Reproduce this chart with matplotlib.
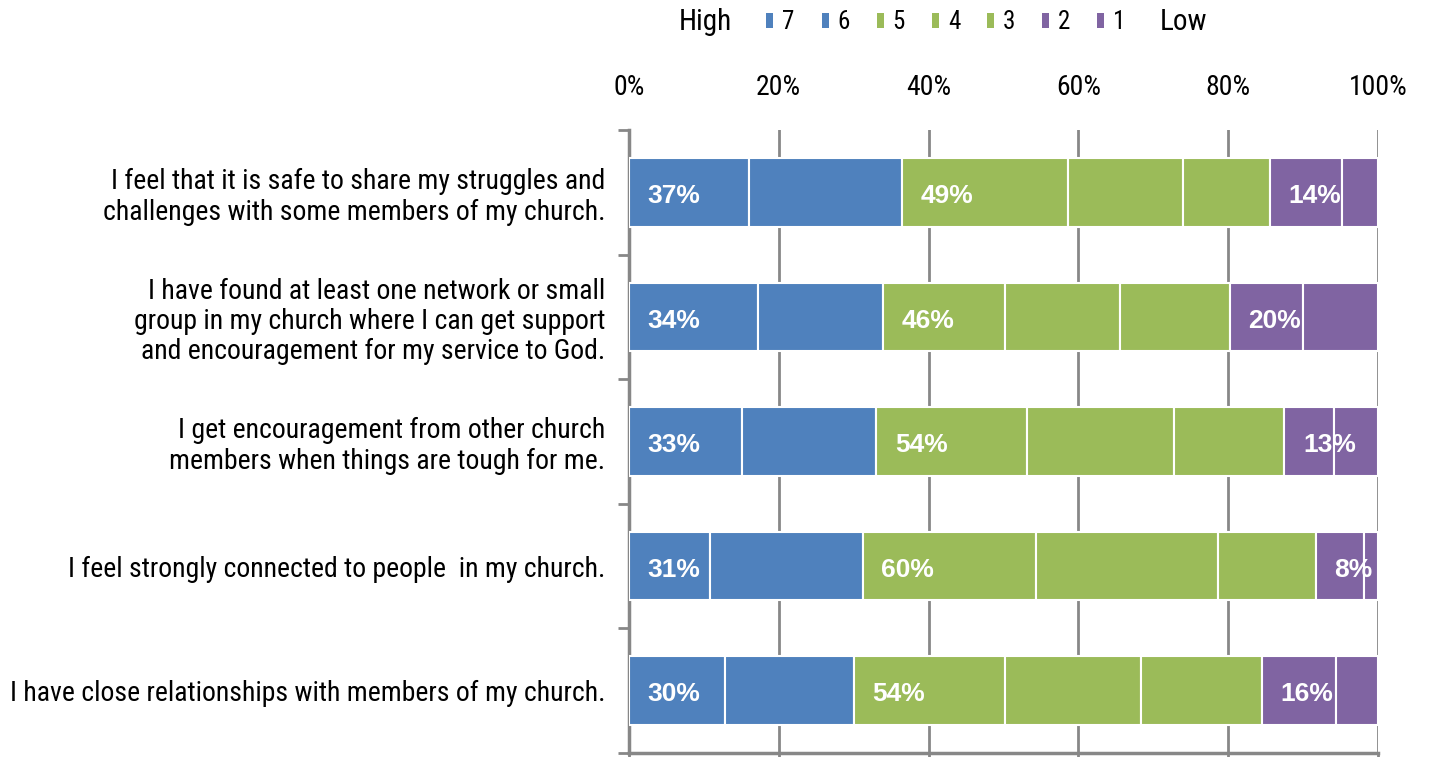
import numpy as np
import matplotlib.pyplot as plt
from matplotlib.patches import Patch

questions = [
    "I feel that it is safe to share my struggles and\nchallenges with some members of my church.",
    "I have found at least one network or small\ngroup in my church where I can get support\nand encouragement for my service to God.",
    "I get encouragement from other church\nmembers when things are tough for me.",
    "I feel strongly connected to people  in my church.",
    "I have close relationships with members of my church.",
]
levels = ["7", "6", "5", "4", "3", "2", "1"]

# share of answers per level (7 .. 1), percent
s7 = [16.0, 17.2, 15.1, 10.8, 12.8]
s6 = [20.4, 16.7, 17.9, 20.4, 17.2]
s5 = [22.2, 16.3, 20.1, 23.1, 20.2]
s4 = [15.4, 15.4, 19.7, 24.3, 18.2]
s3 = [11.6, 14.6, 14.7, 13.1, 16.1]
s2 = [9.6, 9.8, 6.6, 6.4, 9.9]
s1 = [4.8, 10.0, 5.9, 1.9, 5.6]

high_lbl = [37, 34, 33, 31, 30]
mid_lbl = [49, 46, 54, 60, 54]
low_lbl = [14, 20, 13, 8, 16]

blue = "#4F81BD"
green = "#9BBB59"
purple = "#8064A2"
cols = [blue, blue, green, green, green, purple, purple]
grid_c = "#878787"

narrow = ["Roboto Condensed", "DejaVu Sans"]

fig = plt.figure(figsize=(14.29, 7.57), dpi=100)
ax = fig.add_axes([629/1429, 4/757, 749/1429, 623/757])

data = np.array([s7, s6, s5, s4, s3, s2, s1])
y = np.arange(len(questions))
left = np.zeros(len(questions))
starts = []
for i in range(len(levels)):
    starts.append(left.copy())
    ax.barh(y, data[i], left=left, height=0.55, color=cols[i],
            edgecolor="white", linewidth=1.5, zorder=3)
    left += data[i]

# group labels at start of each group (7, 5, 2)
for grp, lbls in zip([0, 2, 5], [high_lbl, mid_lbl, low_lbl]):
    for j in range(len(questions)):
        ax.text(starts[grp][j] + 2.5, y[j] + 0.03, f"{lbls[j]}%", ha="left", va="center",
                color="white", fontsize=19, fontweight="bold",
                family="Liberation Sans", zorder=4)

ax.set_xlim(0, 100)
ax.set_ylim(4.5, -0.5)
ax.set_xticks(np.arange(0, 101, 20))
ax.set_xticklabels([f"{v}%" for v in range(0, 101, 20)], family=narrow, fontsize=20)
ax.xaxis.set_ticks_position("both")
ax.tick_params(axis="x", top=False, bottom=True, labeltop=True, labelbottom=False,
               pad=15, length=6, width=2, color=grid_c, direction="out")
ax.grid(axis="x", color=grid_c, linewidth=2, zorder=0)

ax.set_yticks(np.arange(-0.5, 5, 1), minor=False)
ax.set_yticklabels([])
ax.set_yticks(y, minor=True)
ax.set_yticklabels(questions, minor=True, family=narrow, fontsize=20, ha="right",
                   multialignment="right", linespacing=1.15)
ax.tick_params(axis="y", which="major", length=8, width=2, color=grid_c)
ax.tick_params(axis="y", which="minor", length=0, pad=17)

for s in ["top", "right"]:
    ax.spines[s].set_visible(False)
for s in ["left", "bottom"]:
    ax.spines[s].set_color(grid_c)
    ax.spines[s].set_linewidth(2.5)

handles = [Patch(facecolor=c, edgecolor="none") for c in cols]
fig.legend(handles, levels, loc="center", bbox_to_anchor=(946/1429, 1 - 22/757), ncol=7,
           frameon=False, handlelength=0.28, handleheight=0.56, handletextpad=0.36,
           columnspacing=1.07, prop={"family": narrow, "size": 18})
fig.text(705/1429, 1 - 22/757, "High", ha="center", va="center", fontsize=21, family=narrow)
fig.text(1183/1429, 1 - 22/757, "Low", ha="center", va="center", fontsize=21, family=narrow)

fig.savefig("out.png", dpi=100)
